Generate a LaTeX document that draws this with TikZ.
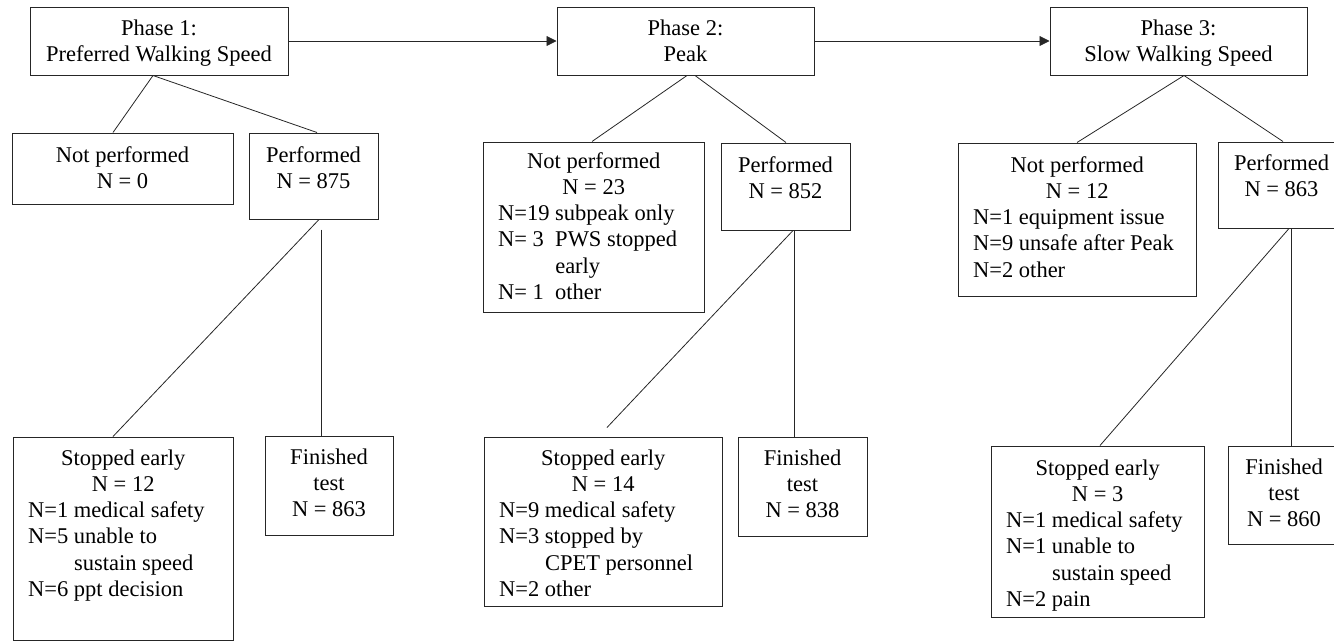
\documentclass[tikz,border=0pt]{standalone}
\usepackage{fontspec}
\setmainfont{Liberation Serif}
\usetikzlibrary{arrows.meta}
\begin{document}
\begin{tikzpicture}[x=1pt,y=-1pt,
  box/.style={draw=black!85, line width=1pt, rectangle, inner sep=0pt},
  txt/.style={inner sep=0pt, font=\fontsize{22.5pt}{26.3pt}\selectfont},
  link/.style={draw=black!85, line width=0.8pt},
  flow/.style={link, -{Triangle[length=10pt,width=10pt]}}]
\useasboundingbox (0,0) rectangle (1334,641);

% ---------- boxes ----------
\node[box, minimum width=258pt, minimum height=68pt] (p1) at (159,41) {};
\node[box, minimum width=257pt, minimum height=68pt] (p2) at (685.5,41) {};
\node[box, minimum width=257pt, minimum height=68pt] (p3) at (1178.5,41) {};

\node[box, minimum width=221pt, minimum height=71pt] (np1) at (122.5,168.5) {};
\node[box, minimum width=129pt, minimum height=86pt] (perf1) at (313.5,176) {};
\node[box, minimum width=220pt, minimum height=203pt] (se1) at (123,538.5) {};
\node[box, minimum width=128pt, minimum height=99pt] (fin1) at (329,485.5) {};

\node[box, minimum width=221pt, minimum height=170pt] (np2) at (593.5,227) {};
\node[box, minimum width=129pt, minimum height=87pt] (perf2) at (785.5,186.5) {};
\node[box, minimum width=238pt, minimum height=169pt] (se2) at (603,521.5) {};
\node[box, minimum width=129pt, minimum height=99pt] (fin2) at (802.5,486.5) {};

\node[box, minimum width=238pt, minimum height=153pt] (np3) at (1077,219.5) {};
\node[box, minimum width=127pt, minimum height=86pt] (perf3) at (1281.5,185) {};
\node[box, minimum width=213pt, minimum height=171pt] (se3) at (1097.5,531.5) {};
\node[box, minimum width=112pt, minimum height=98pt] (fin3) at (1284,495) {};

% ---------- texts ----------
\node[txt, anchor=base] (p1t) at (159,35) {\begin{tabular}[t]{@{}c@{}}Phase 1:\\Preferred Walking Speed\end{tabular}};
\node[txt, anchor=base] (p2t) at (685.5,35) {\begin{tabular}[t]{@{}c@{}}Phase 2:\\Peak\end{tabular}};
\node[txt, anchor=base] (p3t) at (1178.5,35) {\begin{tabular}[t]{@{}c@{}}Phase 3:\\Slow Walking Speed\end{tabular}};

\node[txt, anchor=base] (np1t) at (122.5,162) {\begin{tabular}[t]{@{}c@{}}Not performed\\N = 0\end{tabular}};
\node[txt, anchor=base] (perf1t) at (313.5,162) {\begin{tabular}[t]{@{}c@{}}Performed\\N = 875\end{tabular}};
\node[txt, anchor=base west] (se1t) at (13,465) {\begin{tabular}[t]{@{}l@{}}
  \makebox[220pt]{Stopped early}\\
  \makebox[220pt]{N = 12}\\
  \hspace*{15pt}N=1 medical safety\\
  \hspace*{15pt}N=5 unable to\\
  \hspace*{15pt}\phantom{N=5 }sustain speed\\
  \hspace*{15pt}N=6 ppt decision\end{tabular}};
\node[txt, anchor=base] (fin1t) at (329,464) {\begin{tabular}[t]{@{}c@{}}Finished\\test\\N = 863\end{tabular}};

\node[txt, anchor=base west] (np2t) at (483,168) {\begin{tabular}[t]{@{}l@{}}
  \makebox[221pt]{Not performed}\\
  \makebox[221pt]{N = 23}\\
  \hspace*{15pt}N=19 subpeak only\\
  \hspace*{15pt}\rlap{N= 3}\phantom{N=19 }PWS stopped\\
  \hspace*{15pt}\phantom{N=19 }early\\
  \hspace*{15pt}\rlap{N= 1}\phantom{N=19 }other\end{tabular}};
\node[txt, anchor=base] (perf2t) at (785.5,172) {\begin{tabular}[t]{@{}c@{}}Performed\\N = 852\end{tabular}};
\node[txt, anchor=base west] (se2t) at (484,465) {\begin{tabular}[t]{@{}l@{}}
  \makebox[238pt]{Stopped early}\\
  \makebox[238pt]{N = 14}\\
  \hspace*{15pt}N=9 medical safety\\
  \hspace*{15pt}N=3 stopped by\\
  \hspace*{15pt}\phantom{N=3 }CPET personnel\\
  \hspace*{15pt}N=2 other\end{tabular}};
\node[txt, anchor=base] (fin2t) at (802.5,465) {\begin{tabular}[t]{@{}c@{}}Finished\\test\\N = 838\end{tabular}};

\node[txt, anchor=base west] (np3t) at (958,172) {\begin{tabular}[t]{@{}l@{}}
  \makebox[238pt]{Not performed}\\
  \makebox[238pt]{N = 12}\\
  \hspace*{15pt}N=1 equipment issue\\
  \hspace*{15pt}N=9 unsafe after Peak\\
  \hspace*{15pt}N=2 other\end{tabular}};
\node[txt, anchor=base] (perf3t) at (1281.5,170) {\begin{tabular}[t]{@{}c@{}}Performed\\N = 863\end{tabular}};
\node[txt, anchor=base west] (se3t) at (991,475) {\begin{tabular}[t]{@{}l@{}}
  \makebox[213pt]{Stopped early}\\
  \makebox[213pt]{N = 3}\\
  \hspace*{15pt}N=1 medical safety\\
  \hspace*{15pt}N=1 unable to\\
  \hspace*{15pt}\phantom{N=1 }sustain speed\\
  \hspace*{15pt}N=2 pain\end{tabular}};
\node[txt, anchor=base] (fin3t) at (1284,474) {\begin{tabular}[t]{@{}c@{}}Finished\\test\\N = 860\end{tabular}};

% ---------- phase arrows ----------
\draw[flow] (p1.east) -- (p2.west);
\draw[flow] (p2.east) -- (p3.west);

% ---------- phase 1 connectors ----------
\draw[link] ([xshift=-6pt]p1.south) -- ([xshift=-9.5pt]np1.north);
\draw[link] ([xshift=-6pt]p1.south) -- ([xshift=3.5pt]perf1.north);
\draw[link] ([xshift=5.5pt]perf1.south) -- ([xshift=-10pt]se1.north);
\coordinate (v1) at ([xshift=7.5pt,yshift=-10pt]perf1.south);
\draw[link] (v1) -- (v1 |- fin1.north);

% ---------- phase 2 connectors ----------
\draw[link] ([xshift=1.5pt]p2.south) -- ([xshift=-1.5pt]np2.north);
\draw[link] ([xshift=9.5pt]p2.south) -- ([xshift=0.5pt]perf2.north);
\coordinate (d2) at ([xshift=4pt,yshift=9pt]se2.north);
\draw[link] ([xshift=7.5pt]perf2.south) -- (d2);
\coordinate (v2) at ([xshift=8.5pt]perf2.south);
\draw[link] (v2) -- (v2 |- fin2.north);

% ---------- phase 3 connectors ----------
\draw[link] ([xshift=5.5pt]p3.south) -- (np3.north);
\draw[link] ([xshift=5.5pt]p3.south) -- ([xshift=1.5pt]perf3.north);
\draw[link] ([xshift=7.5pt]perf3.south) -- ([xshift=2.5pt]se3.north);
\coordinate (v3) at ([xshift=9.5pt]perf3.south);
\draw[link] (v3) -- (v3 |- fin3.north);
\end{tikzpicture}
\end{document}
